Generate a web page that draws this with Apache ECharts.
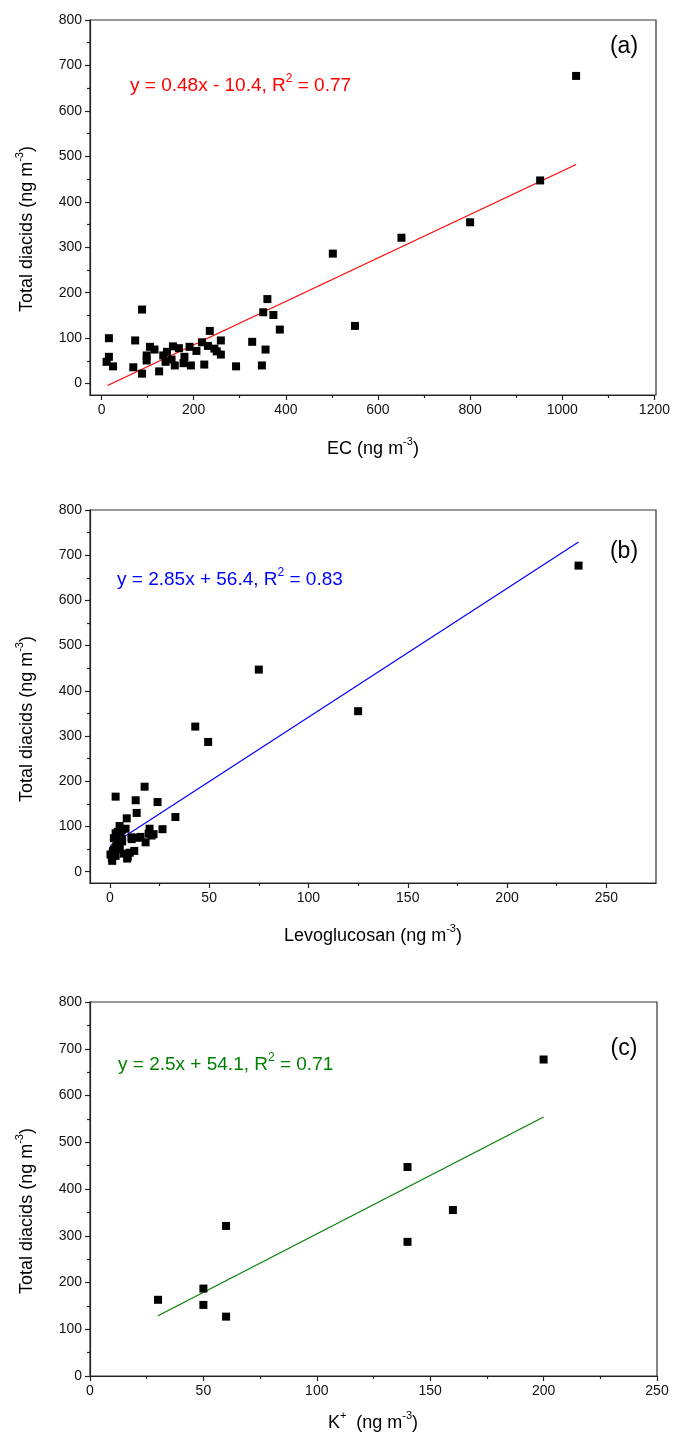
<!DOCTYPE html>
<html>
<head>
<meta charset="utf-8">
<script src="https://cdn.jsdelivr.net/npm/echarts@6/dist/echarts.min.js"></script>
<style>
html,body{margin:0;padding:0;background:#fff;}
#c{width:673px;height:1437px;}
</style>
</head>
<body>
<div id="c"></div>
<script>
// ---------- data ----------
// Panel (a): EC vs total diacids
const ecX = [16,16,11,25,88,73,69,88,105,115,98,98,125,134,142,139,152,155,168,159,180,178,191,194,206,218,235,223,231,245,259,259,250,292,327,348,356,360,351,373,387,502,550,651,800,952,1030];
const tdA = [100,59,48,38,163,95,36,22,81,75,62,51,27,62,70,48,53,82,78,40,59,45,81,40,72,91,116,42,83,77,95,64,71,38,92,40,75,186,157,151,119,286,127,321,355,447,677];
// Panel (b): Levoglucosan vs total diacids
const levoX = [2.9,17.5,13,24,13.5,8.5,33,4.9,7.9,20,26.5,2.9,5.4,15.4,10.9,19.5,22,18,2,4,2,0.3,2.9,1.2,12.3,10,8.7,6.2,3,1.5,4,6,3.5,1,5,7,11,14,21,9,2.5,6,43,49.5,75,125,236];
const tdB  = [166,188,158,154,130,118,121,101,95,95,94,85,79,77,76,84,83,65,74,63,49,38,35,24,46,42,29,67,55,45,88,72,60,30,50,40,72,75,80,33,40,92,321,287,447,355,677];
// Panel (c): K+ vs total diacids
const kX  = [30,50,50,60,60,140,140,160,200];
const tdC = [163,187,152,127,321,287,447,355,677];
// Fitted lines (end points)
const fitA = [[13,-4],[1030,482]];
const fitB = [[0.4,58],[236,729]];
const fitC = [[30,129],[200,554]];
// Tick values
const yMajor = [0,100,200,300,400,500,600,700,800];
const yMinor = [50,150,250,350,450,550,650,750];
const xMajorA = [0,200,400,600,800,1000,1200];
const xMinorA = [100,300,500,700,900,1100];
const xMajorB = [0,50,100,150,200,250];
const xMinorB = [25,75,125,175,225];
const xMajorC = [0,50,100,150,200,250];
const xMinorC = [25,75,125,175,225];
// Texts
const eqA = ['y = 0.48x - 10.4, R','2',' = 0.77'];
const eqB = ['y = 2.85x + 56.4, R','2',' = 0.83'];
const eqC = ['y = 2.5x + 54.1, R','2',' = 0.71'];
const yTitle = ['Total diacids (ng m','-3',')'];
const xTitleA = ['EC (ng m','-3',')'];
const xTitleB = ['Levoglucosan (ng m','-3',')'];
const xTitleC = ['K','+','  (ng m','-3',')'];
const panelTags = ['(a)','(b)','(c)'];

// ---------- layout ----------
const grids = [
  {left:90, top:20, width:566, height:375},
  {left:90, top:510, width:566, height:373},
  {left:90, top:1002, width:567, height:374}
];
const xRanges = [[-25,1200],[-10,275],[0,250]];
const yRanges = [[-25,800],[-25,800],[0,800]];
const xMaj = [xMajorA,xMajorB,xMajorC];
const xMin = [xMinorA,xMinorB,xMinorC];
const AX = '#222';
const FONT = 'Arial, "Liberation Sans", sans-serif';
const plain = v => String(v);

const xAxis = [], yAxis = [], series = [];
grids.forEach((g,i)=>{
  // main x
  xAxis.push({gridIndex:i, type:'value', position:'bottom', min:xRanges[i][0], max:xRanges[i][1],
    axisLine:{show:true,onZero:false,lineStyle:{color:AX,width:1.2}},
    axisTick:{show:true,length:5,customValues:xMaj[i],lineStyle:{color:AX,width:1.2}},
    axisLabel:{customValues:xMaj[i],formatter:plain,color:'#111',fontSize:14,fontFamily:FONT,margin:8},
    splitLine:{show:false}});
  // minor x
  xAxis.push({gridIndex:i, type:'value', position:'bottom', min:xRanges[i][0], max:xRanges[i][1],
    axisLine:{show:false,onZero:false},
    axisTick:{show:true,length:3,customValues:xMin[i],lineStyle:{color:AX,width:1.2}},
    axisLabel:{show:false},splitLine:{show:false}});
  yAxis.push({gridIndex:i, type:'value', position:'left', min:yRanges[i][0], max:yRanges[i][1],
    axisLine:{show:true,onZero:false,lineStyle:{color:AX,width:1.2}},
    axisTick:{show:true,length:5,customValues:yMajor,lineStyle:{color:AX,width:1.2}},
    axisLabel:{customValues:yMajor,formatter:plain,color:'#111',fontSize:14,fontFamily:FONT,margin:8},
    splitLine:{show:false}});
  yAxis.push({gridIndex:i, type:'value', position:'left', offset:0, min:yRanges[i][0], max:yRanges[i][1],
    axisLine:{show:false,onZero:false},
    axisTick:{show:true,length:3,customValues:yMinor,lineStyle:{color:AX,width:1.2}},
    axisLabel:{show:false},splitLine:{show:false}});
});

const pairs = (xs,ys)=>xs.map((x,k)=>[x,ys[k]]);
const scat = [pairs(ecX,tdA),pairs(levoX,tdB),pairs(kX,tdC)];
const fits = [fitA,fitB,fitC];
const colors = ['#ff0000','#0000ff','#008000'];
scat.forEach((d,i)=>{
  series.push({type:'line', xAxisIndex:2*i, yAxisIndex:2*i, data:fits[i], symbol:'none',
    lineStyle:{color:colors[i],width:1.2}, silent:true, z:2});
  series.push({type:'scatter', xAxisIndex:2*i, yAxisIndex:2*i, data:d, symbol:'rect',
    symbolSize:8, itemStyle:{color:'#000',opacity:1}, z:3});
});

function richText(parts, supIdx){
  return parts.map((p,k)=> supIdx.includes(k) ? '{s|'+p+'}' : '{n|'+p+'}').join('');
}
function rich(fs, color){
  return {
    n:{fontSize:fs, fontFamily:FONT, fill:color, lineHeight:fs+4, verticalAlign:'bottom'},
    s:{fontSize:Math.round(fs*0.62), fontFamily:FONT, fill:color, lineHeight:Math.round(fs*0.62), verticalAlign:'top'}
  };
}
function textEl(parts, supIdx, x, y, fs, color, align, rot){
  return {type:'text', x:x, y:y, rotation:rot||0, silent:true,
    style:{text:richText(parts,supIdx), rich:rich(fs,color), fill:color, fontSize:fs, fontFamily:FONT,
      align:align||'left', verticalAlign:'middle'}};
}

const graphic = [];
grids.forEach(g=>{
  graphic.push({type:'rect', shape:{x:g.left, y:g.top, width:g.width, height:g.height}, silent:true,
    style:{fill:'none', stroke:'#333', lineWidth:1.2}, z:-1});
});
graphic.push(textEl(eqA,[1],130,84,19,colors[0],'left'));
graphic.push(textEl(eqB,[1],117,578,19,colors[1],'left'));
graphic.push(textEl(eqC,[1],118,1063,19,colors[2],'left'));
[47,552,1049].forEach((y,i)=>{
  graphic.push({type:'text', x:624, y:y, silent:true,
    style:{text:panelTags[i], fontSize:23, fontFamily:FONT, fill:'#000', align:'center', verticalAlign:'middle'}});
});
[229,719,1211].forEach(y=>{
  graphic.push(textEl(yTitle,[1],25,y,18,'#000','center',Math.PI/2));
});
graphic.push(textEl(xTitleA,[1],373,447,18,'#000','center'));
graphic.push(textEl(xTitleB,[1],373,934,18,'#000','center'));
graphic.push(textEl(xTitleC,[1,3],373,1421,18,'#000','center'));

const chart = echarts.init(document.getElementById('c'), null, {renderer:'canvas'});
chart.setOption({
  animation:false,
  backgroundColor:'#fff',
  grid: grids.map(g=>Object.assign({containLabel:false}, g)),
  xAxis, yAxis, series, graphic
});
</script>
</body>
</html>
